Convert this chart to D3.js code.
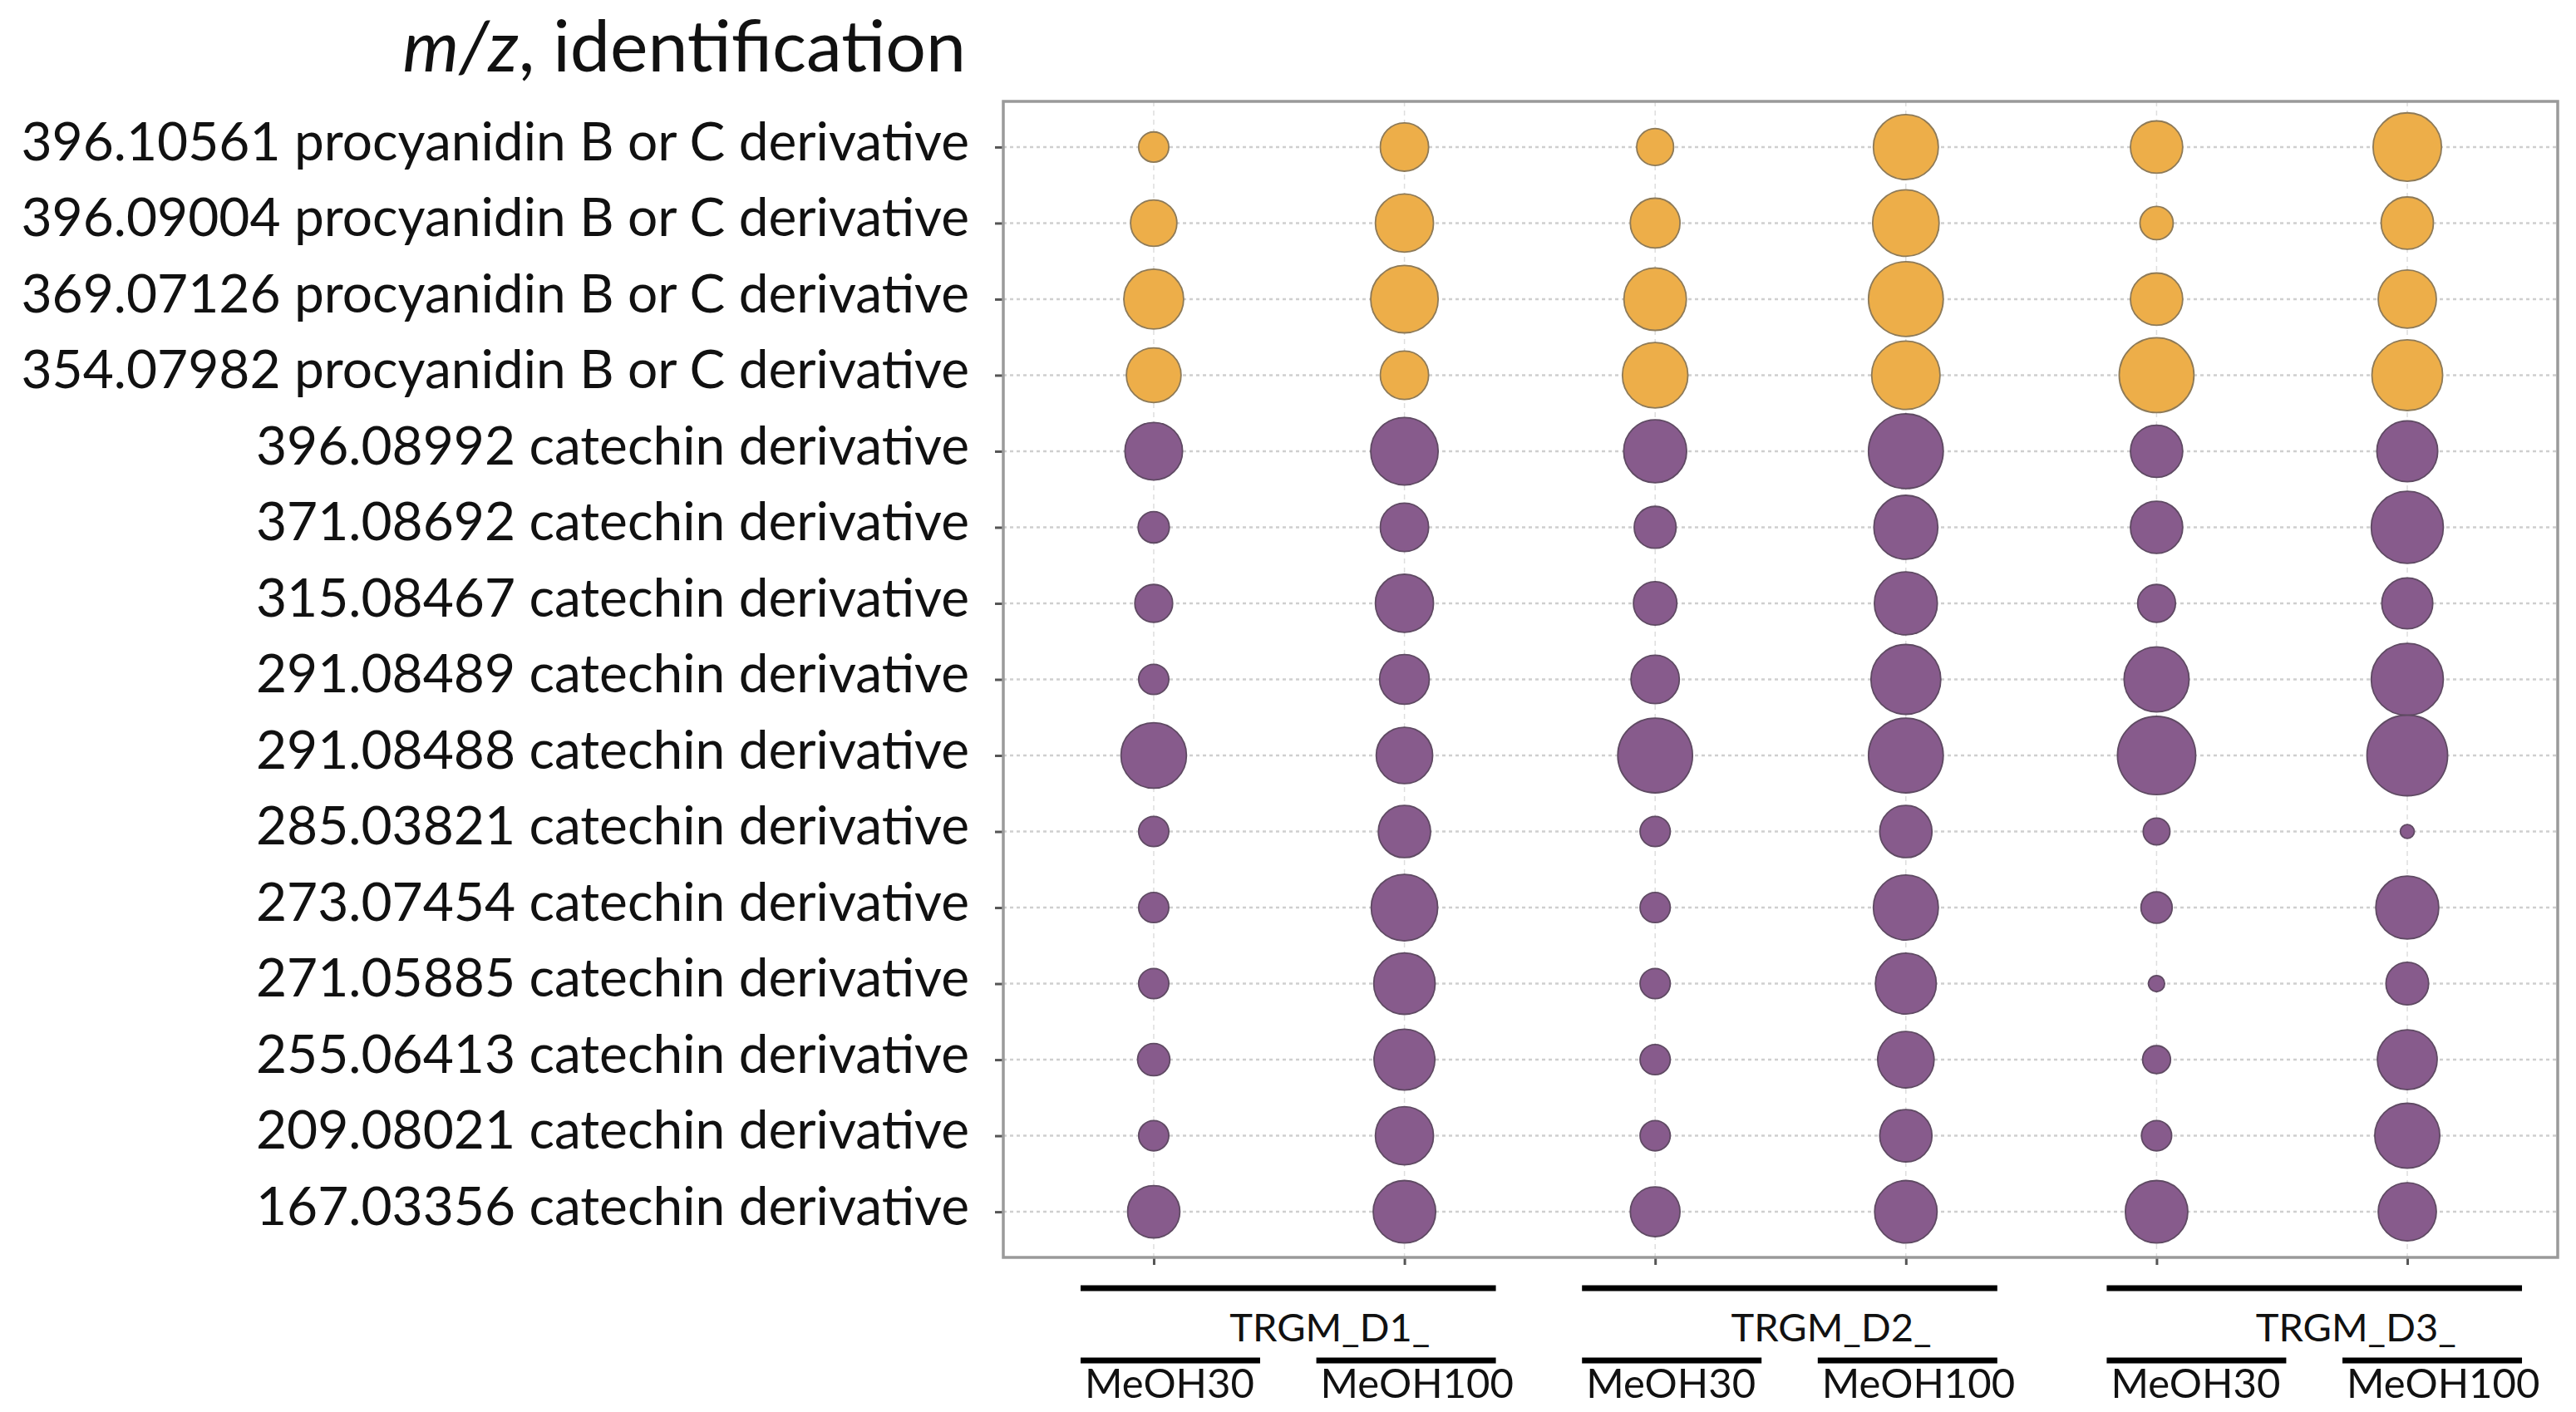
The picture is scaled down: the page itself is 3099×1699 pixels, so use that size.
<!DOCTYPE html>
<html>
<head>
<meta charset="utf-8">
<script src="https://cdn.jsdelivr.net/npm/d3@7"></script>
<style>
  html, body { margin: 0; padding: 0; background: #ffffff; }
  svg { display: block; }
</style>
</head>
<body>
<svg id="chart" width="3099" height="1699"></svg>
<script>
// row labels, top to bottom
var features = [
    "396.10561 procyanidin B or C derivative",
    "396.09004 procyanidin B or C derivative",
    "369.07126 procyanidin B or C derivative",
    "354.07982 procyanidin B or C derivative",
    "396.08992 catechin derivative",
    "371.08692 catechin derivative",
    "315.08467 catechin derivative",
    "291.08489 catechin derivative",
    "291.08488 catechin derivative",
    "285.03821 catechin derivative",
    "273.07454 catechin derivative",
    "271.05885 catechin derivative",
    "255.06413 catechin derivative",
    "209.08021 catechin derivative",
    "167.03356 catechin derivative"
];

var compoundClass = ["procyanidin", "procyanidin", "procyanidin", "procyanidin",
    "catechin", "catechin", "catechin", "catechin", "catechin", "catechin",
    "catechin", "catechin", "catechin", "catechin", "catechin"];

var groups = ["TRGM_D1_", "TRGM_D2_", "TRGM_D3_"];
var solvents = ["MeOH30", "MeOH100"];

// relative intensity (0-100), one row per feature, columns D1/30, D1/100, D2/30, D2/100, D3/30, D3/100
var intensity = [
    [14, 36, 21, 65, 42, 72],
    [33, 52, 38, 68, 17, 42],
    [55, 70, 60, 86, 42, 52],
    [46, 36, 66, 72, 86, 77],
    [51, 70, 61, 86, 42, 57],
    [15, 36, 27, 63, 42, 80],
    [22, 52, 29, 61, 22, 40],
    [14, 38, 36, 75, 65, 80],
    [66, 49, 86, 86, 94, 100],
    [14, 42, 14, 42, 11, 3],
    [14, 68, 14, 65, 15, 61],
    [14, 58, 14, 57, 4, 28],
    [16, 57, 14, 49, 12, 55],
    [14, 52, 14, 42, 14, 65],
    [42, 60, 38, 60, 60, 52]
];

var colors = { procyanidin: "#edae49", catechin: "#875b8c" };
var strokes = { procyanidin: "#8d7a58", catechin: "#5f4a63" };

var samples = [];
groups.forEach(function (g) {
    solvents.forEach(function (s) { samples.push(g + s); });
});

var svg = d3.select("#chart");
svg.append("rect").attr("width", 3099).attr("height", 1699).attr("fill", "#ffffff");

var plot = { left: 1207, right: 3077, top: 122, bottom: 1513 };

var x = d3.scalePoint().domain(samples).range([plot.left, plot.right]).padding(0.6);
var y = d3.scalePoint().domain(features).range([plot.top, plot.bottom]).padding(0.6);
var r = d3.scaleSqrt().domain([0, 100]).range([0, 48.5]);

// grid
svg.append("g").selectAll("line").data(features).enter().append("line")
    .attr("x1", plot.left).attr("x2", plot.right)
    .attr("y1", function (d) { return y(d); }).attr("y2", function (d) { return y(d); })
    .attr("stroke", "#cfcfcf").attr("stroke-width", 2.5).attr("stroke-dasharray", "4,4");

svg.append("g").selectAll("line").data(samples).enter().append("line")
    .attr("x1", function (d) { return x(d); }).attr("x2", function (d) { return x(d); })
    .attr("y1", plot.top).attr("y2", plot.bottom)
    .attr("stroke", "#dedede").attr("stroke-width", 1.5).attr("stroke-dasharray", "6,5");

// y axis with the row labels
var yAxis = svg.append("g")
    .attr("transform", "translate(" + plot.left + ",0)")
    .call(d3.axisLeft(y).tickSize(10).tickSizeOuter(0).tickPadding(31));
yAxis.select(".domain").remove();
yAxis.selectAll("line").attr("stroke", "#555").attr("stroke-width", 3);
yAxis.selectAll("text")
    .attr("font-family", "Lato, 'Open Sans', sans-serif")
    .attr("font-size", 64)
    .attr("fill", "#111")
    .attr("dy", "0.24em");

// x ticks only
var xAxis = svg.append("g")
    .attr("transform", "translate(0," + plot.bottom + ")")
    .call(d3.axisBottom(x).tickSize(9).tickSizeOuter(0).tickFormat(""));
xAxis.select(".domain").remove();
xAxis.selectAll("line").attr("stroke", "#555").attr("stroke-width", 3);

// frame
svg.append("rect")
    .attr("x", plot.left).attr("y", plot.top)
    .attr("width", plot.right - plot.left).attr("height", plot.bottom - plot.top)
    .attr("fill", "none").attr("stroke", "#9a9a9a").attr("stroke-width", 3.5);

// bubbles
var cells = [];
features.forEach(function (f, i) {
    samples.forEach(function (s, j) {
        cells.push({ feature: f, sample: s, value: intensity[i][j], cls: compoundClass[i] });
    });
});

svg.append("g").selectAll("circle").data(cells).enter().append("circle")
    .attr("cx", function (d) { return x(d.sample); })
    .attr("cy", function (d) { return y(d.feature); })
    .attr("r", function (d) { return r(d.value); })
    .attr("fill", function (d) { return colors[d.cls]; })
    .attr("stroke", function (d) { return strokes[d.cls]; })
    .attr("stroke-width", 1.8);

// title
var title = svg.append("text")
    .attr("x", 1162).attr("y", 86)
    .attr("text-anchor", "end")
    .attr("font-family", "Lato, 'Open Sans', sans-serif")
    .attr("font-size", 86)
    .attr("fill", "#111");
title.append("tspan").attr("font-style", "italic").text("m/z");
title.append("tspan").text(", identification");

// sample group annotation under the x axis
var groupShift = [0, 0, 28];
var subWidth = 216;
var ann = svg.append("g").attr("font-family", "Lato, 'Open Sans', sans-serif").attr("fill", "#111");

groups.forEach(function (g, k) {
    var x0 = x(g + solvents[0]) - 88 + groupShift[k];
    var x1 = x(g + solvents[1]) + 110 + groupShift[k];

    ann.append("line")
        .attr("x1", x0).attr("x2", x1).attr("y1", 1550).attr("y2", 1550)
        .attr("stroke", "#000").attr("stroke-width", 7);

    ann.append("text")
        .attr("x", (x0 + x1) / 2 + 50).attr("y", 1614)
        .attr("text-anchor", "middle")
        .attr("font-size", 47)
        .text(g);

    solvents.forEach(function (s, m) {
        var sx = m === 0 ? x0 : x1 - subWidth;
        ann.append("line")
            .attr("x1", sx).attr("x2", sx + subWidth).attr("y1", 1637).attr("y2", 1637)
            .attr("stroke", "#000").attr("stroke-width", 7);
        ann.append("text")
            .attr("x", sx + 5).attr("y", 1682)
            .attr("font-size", 49)
            .text(s);
    });
});
</script>
</body>
</html>
